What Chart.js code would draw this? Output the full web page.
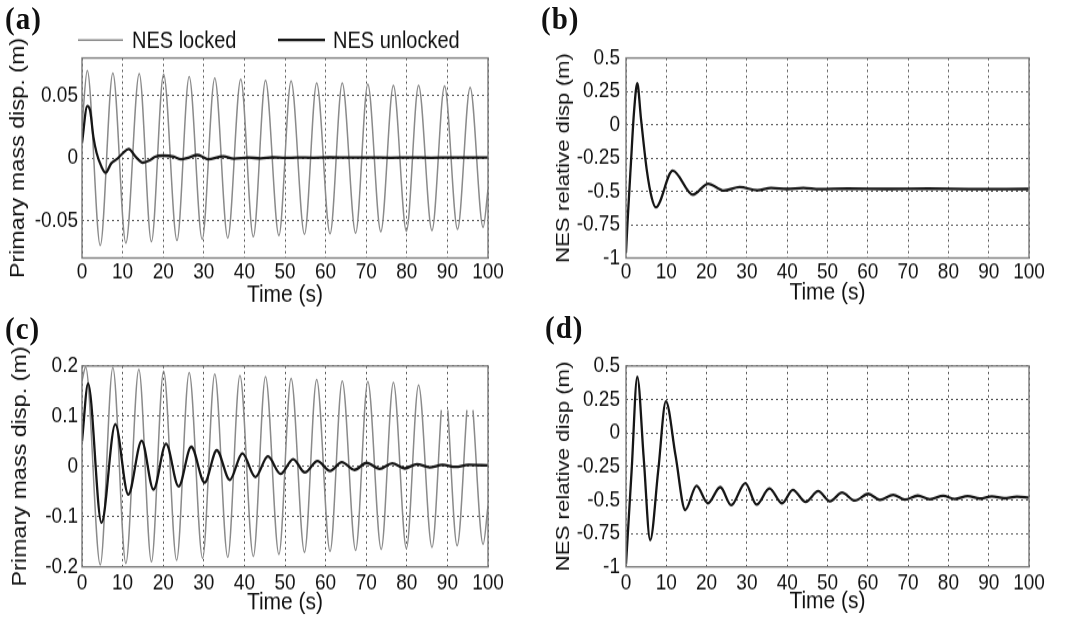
<!DOCTYPE html>
<html><head><meta charset="utf-8">
<script src="https://cdn.jsdelivr.net/npm/chart.js@4.4.1/dist/chart.umd.min.js"></script>
<style>
html,body{margin:0;padding:0;background:#fff;}
#wrap{position:relative;width:1072px;height:621px;overflow:hidden;background:#fff;}
canvas{position:absolute;}
.lab{position:absolute;font-family:'Liberation Serif','Times New Roman',serif;font-weight:bold;font-size:29px;line-height:1;color:#111;letter-spacing:1px;transform:scaleY(1.1);transform-origin:0 0;}
</style></head><body>
<div id="wrap">
<canvas id="cA" width="536" height="265" style="left:0;top:0;width:536px;height:310px"></canvas>
<canvas id="cB" width="536" height="265" style="left:536px;top:0;width:536px;height:310px"></canvas>
<canvas id="cC" width="536" height="266" style="left:0;top:310px;width:536px;height:311px"></canvas>
<canvas id="cD" width="536" height="266" style="left:536px;top:310px;width:536px;height:311px"></canvas>
<div class="lab" style="left:5px;top:3px">(a)</div>
<div class="lab" style="left:541px;top:3px">(b)</div>
<div class="lab" style="left:5px;top:313px">(c)</div>
<div class="lab" style="left:545px;top:312px">(d)</div>
</div>
<script>
// ---------- data ----------
const timeTicks = [0,10,20,30,40,50,60,70,80,90,100];
const timeTickLabels = ['0','10','20','30','40','50','60','70','80','90','100'];

// (a) primary mass displacement, NES locked / unlocked
const lockedA_t = [0,1.3,4.5,7.6,10.8,14.1,17.1,20.1,23.4,26.4,29.6,32.7,35.9,39.1,42.2,45.2,48.5,51.5,54.8,57.8,61.1,64.1,67.4,70.4,73.6,76.7,79.9,82.9,86.2,89.3,92.5,95.6,98.8,100];
const lockedA_y = [0.025,0.070,-0.070,0.068,-0.068,0.0675,-0.067,0.067,-0.066,0.065,-0.065,0.064,-0.064,0.063,-0.063,0.062,-0.062,0.0615,-0.061,0.060,-0.0605,0.060,-0.060,0.059,-0.059,0.058,-0.0585,0.058,-0.058,0.0575,-0.057,0.0565,-0.0555,-0.025];
const unlockedA_t = [0,1.3,2.0,2.8,3.6,4.8,5.8,7.2,8.8,10.0,11.5,13.2,15.0,16.8,18.0,20.0,22.6,24.4,26.4,28.4,30.0,31.0,34.8,37.4,41,44,47,50,53,57,61,66,71,76,81,86,91,96,100];
const unlockedA_y = [0.012,0.0415,0.038,0.017,0.004,-0.007,-0.0118,-0.0043,-0.0003,0.0037,0.0072,0.001,-0.0037,-0.0016,0.001,0.0019,0.001,-0.001,0.0005,0.0024,0.0005,-0.001,0.0013,-0.0005,0.0004,-0.0003,0.0005,0.0001,0.0004,0.0002,0.0005,0.0003,0.0004,0.0002,0.0004,0.0002,0.0004,0.0003,0.0003];
const yTicksA = [-0.05,0,0.05];
const yTickLabelsA = ['-0.05','0','0.05'];

// (b) NES relative displacement
const relB_t = [0,0.4,1.2,2.0,2.8,3.7,5.2,6.4,7.4,11.6,16.6,20.4,24.3,28.2,32.6,36.0,40,44,48,55,65,75,85,100];
const relB_y = [-0.96,-0.72,-0.30,0.10,0.31,0.05,-0.35,-0.55,-0.62,-0.345,-0.525,-0.443,-0.495,-0.468,-0.492,-0.475,-0.482,-0.474,-0.483,-0.480,-0.482,-0.480,-0.483,-0.482];
const yTicksRel = [-1,-0.75,-0.5,-0.25,0,0.25,0.5];
const yTickLabelsRel = ['-1','-0.75','-0.5','-0.25','0','0.25','0.5'];

// (c) primary mass displacement, larger excitation
const lockedC_t = [0,0.9,4.5,7.6,10.8,14.0,17.1,20.1,23.3,26.4,29.7,32.7,35.9,38.9,42.2,45.2,48.5,51.5,54.8,57.8,61.1,64.1,67.4,70.4,73.7,76.7,79.9,82.9,86.2,88.5,89.3,90.1,92.4,94.8,95.6,96.3,98.8,100];
const lockedC_y = [0.17,0.198,-0.196,0.197,-0.193,0.193,-0.19,0.19,-0.187,0.187,-0.183,0.184,-0.181,0.181,-0.179,0.179,-0.175,0.175,-0.171,0.173,-0.169,0.17,-0.167,0.169,-0.165,0.167,-0.163,0.162,-0.161,0.112,null,0.112,-0.158,0.112,null,0.112,-0.155,-0.078];
const unlockedC_t = [0,1.5,4.8,8.2,11.4,14.7,17.6,20.7,23.8,26.9,30.2,33.2,36.4,39.5,42.7,45.8,48.9,52.0,54.9,58.0,61.1,64.0,67.1,70.1,73.3,76.4,79.5,82.5,85.6,88.8,92.0,95.2,100];
const unlockedC_y = [0.05,0.165,-0.112,0.084,-0.056,0.051,-0.046,0.045,-0.04,0.039,-0.032,0.032,-0.027,0.026,-0.021,0.02,-0.015,0.0145,-0.012,0.011,-0.009,0.0085,-0.007,0.007,-0.005,0.006,-0.004,0.0046,-0.002,0.003,-0.001,0.003,0.002];
const yTicksC = [-0.2,-0.1,0,0.1,0.2];
const yTickLabelsC = ['-0.2','-0.1','0','0.1','0.2'];

// (d) NES relative displacement, larger excitation
const relD_t = [0,1.4,2.8,4.4,6.0,8.0,9.9,12.3,14.7,17.5,20.3,23.4,26.1,29.6,32.4,35.6,38.7,41.4,44.6,47.7,50.6,53.6,56.8,60.1,63.0,66.3,69.2,72.4,75.4,78.7,81.6,84.8,87.8,90.8,93.8,97.0,100];
const relD_y = [-0.98,-0.28,0.42,-0.19,-0.80,-0.28,0.235,-0.17,-0.575,-0.395,-0.525,-0.405,-0.54,-0.375,-0.535,-0.415,-0.525,-0.425,-0.515,-0.435,-0.51,-0.445,-0.505,-0.455,-0.50,-0.462,-0.498,-0.468,-0.495,-0.47,-0.493,-0.472,-0.49,-0.474,-0.488,-0.476,-0.482];

// ---------- drawing ----------
const FONT = "'Liberation Sans', Arial, sans-serif";
const GRAY = '#8a8a8a', BLACK = '#161616';
const SY = 1.17;   // the figure is drawn slightly compressed and stretched back vertically by CSS
function pts(t, y) { return t.map((v, i) => ({ x: v, y: y[i] })); }

const boxPlugin = {
  id: 'box',
  afterDraw(chart) {
    const { ctx, chartArea: a } = chart;
    ctx.save();
    ctx.strokeStyle = '#7a7a7a';
    ctx.lineWidth = 1.4;
    ctx.strokeRect(a.left, a.top, a.right - a.left, a.bottom - a.top);
    ctx.restore();
  }
};

const lineLegend = {
  id: 'lineLegend',
  afterDraw(chart, args, opts) {
    if (!opts || !opts.entries) return;
    const ctx = chart.ctx;
    ctx.save();
    ctx.font = '20px ' + FONT;
    ctx.textBaseline = 'middle';
    ctx.fillStyle = '#111';
    opts.entries.forEach((e, i) => {
      const ds = chart.data.datasets[i];
      ctx.strokeStyle = ds.borderColor;
      ctx.lineWidth = ds.borderWidth;
      ctx.beginPath();
      ctx.moveTo(e.x0, opts.y);
      ctx.lineTo(e.x1, opts.y);
      ctx.stroke();
      ctx.fillText(ds.label, e.tx, opts.y + 1);
    });
    ctx.restore();
  }
};

function makePanel(id, cfg) {
  const c = document.getElementById(id);
  const W = c.width, H = c.height, A = cfg.area;
  const top = A.top / SY, bottom = A.bottom / SY;
  return new Chart(c, {
    type: 'line',
    data: {
      datasets: cfg.series.map(s => ({
        label: s.label, data: pts(s.t, s.y),
        borderColor: s.color, borderWidth: s.width,
        pointRadius: 0, cubicInterpolationMode: 'monotone',
        fill: false, spanGaps: false, order: s.order
      }))
    },
    options: {
      responsive: false, animation: false, devicePixelRatio: 1,
      layout: { padding: { left: 0, top: top, right: W - A.right, bottom: 0 } },
      plugins: {
        legend: { display: false }, tooltip: { enabled: false },
        lineLegend: cfg.legend || {}
      },
      scales: {
        x: {
          type: 'linear', min: 0, max: 100,
          afterBuildTicks: s => { s.ticks = timeTicks.map(v => ({ value: v })); },
          afterFit: s => { s.height = H - bottom; },
          ticks: { autoSkip: false, maxRotation: 0, minRotation: 0, padding: cfg.xTickPad,
                   color: '#111', font: { family: FONT, size: 19 },
                   callback: (v, i) => timeTickLabels[i] },
          grid: { color: '#555', lineWidth: 1, drawTicks: false },
          border: { display: false, dash: [2, 3] },
          title: { display: true, text: 'Time (s)', color: '#111',
                   font: { family: FONT, size: 21 }, padding: { top: 0, bottom: cfg.xTitlePad } }
        },
        y: {
          type: 'linear', min: cfg.yMin, max: cfg.yMax,
          afterBuildTicks: s => { s.ticks = cfg.yTicks.map(v => ({ value: v })); },
          afterFit: s => { s.width = A.left; },
          ticks: { autoSkip: false, padding: cfg.yTickPad, color: '#111',
                   font: { family: FONT, size: 19 },
                   callback: (v, i) => cfg.yLabels[i] },
          grid: { color: '#555', lineWidth: 1, drawTicks: false },
          border: { display: false, dash: [2, 3] },
          title: { display: true, text: cfg.yTitle, color: '#111',
                   font: { family: FONT, size: cfg.yTitleSize }, padding: { top: cfg.yTitlePad, bottom: 0 } }
        }
      }
    },
    plugins: [boxPlugin, lineLegend]
  });
}

makePanel('cA', {
  area: { left: 82, right: 488, top: 58, bottom: 258 },
  yMin: -0.08, yMax: 0.08, yTicks: yTicksA, yLabels: yTickLabelsA,
  yTitle: 'Primary mass disp. (m)', yTitleSize: 20, yTitlePad: 6, yTickPad: 4,
  xTickPad: 0.8, xTitlePad: 0.5,
  series: [
    { label: 'NES locked', t: lockedA_t, y: lockedA_y, color: GRAY, width: 1.5, order: 1 },
    { label: 'NES unlocked', t: unlockedA_t, y: unlockedA_y, color: BLACK, width: 2.3, order: 0 }
  ],
  legend: { y: 40 / SY, entries: [ { x0: 78, x1: 123, tx: 132 }, { x0: 278, x1: 325, tx: 333 } ] }
});

makePanel('cB', {
  area: { left: 90, right: 493, top: 58, bottom: 258 },
  yMin: -1, yMax: 0.5, yTicks: yTicksRel, yLabels: yTickLabelsRel,
  yTitle: 'NES relative disp (m)', yTitleSize: 19, yTitlePad: 16.5, yTickPad: 6,
  xTickPad: 1.3, xTitlePad: 2,
  series: [
    { label: 'NES relative disp', t: relB_t, y: relB_y, color: BLACK, width: 2.3, order: 0 }
  ]
});

makePanel('cC', {
  area: { left: 82, right: 488, top: 56, bottom: 257 },
  yMin: -0.2, yMax: 0.2, yTicks: yTicksC, yLabels: yTickLabelsC,
  yTitle: 'Primary mass disp. (m)', yTitleSize: 20, yTitlePad: 8, yTickPad: 4,
  xTickPad: 2.5, xTitlePad: 3.5,
  series: [
    { label: 'NES locked', t: lockedC_t, y: lockedC_y, color: GRAY, width: 1.5, order: 1 },
    { label: 'NES unlocked', t: unlockedC_t, y: unlockedC_y, color: BLACK, width: 2.3, order: 0 }
  ]
});

makePanel('cD', {
  area: { left: 90, right: 493, top: 56, bottom: 257 },
  yMin: -1, yMax: 0.5, yTicks: yTicksRel, yLabels: yTickLabelsRel,
  yTitle: 'NES relative disp (m)', yTitleSize: 19, yTitlePad: 16.5, yTickPad: 6,
  xTickPad: 2.5, xTitlePad: 4,
  series: [
    { label: 'NES relative disp', t: relD_t, y: relD_y, color: BLACK, width: 2.3, order: 0 }
  ]
});
</script>
</body></html>
